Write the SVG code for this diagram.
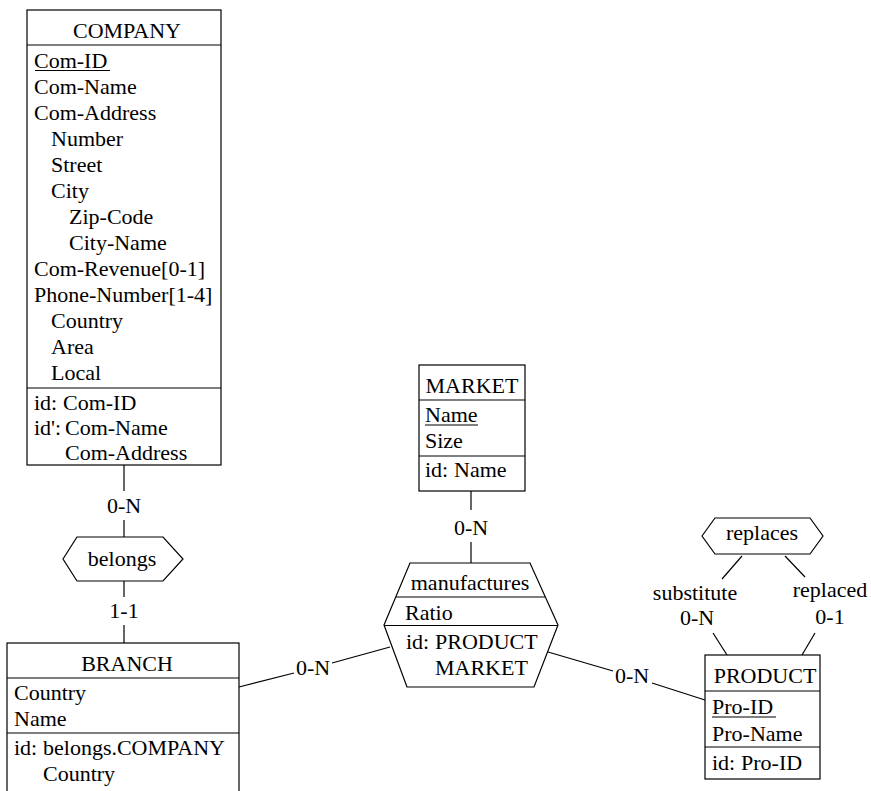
<svg xmlns="http://www.w3.org/2000/svg" width="871" height="791" viewBox="0 0 871 791" font-size="22">
  <style>
    text { fill: #000; font-family: 'Liberation Serif', serif; }
    .c { text-anchor: middle; }
    .box { fill: #fff; stroke: #000; stroke-width: 1.2; }
    .sep { stroke: #000; stroke-width: 1.2; fill: none; }
    #connectors line { stroke: #000; stroke-width: 1.2; fill: none; }
  </style>
  <rect width="871" height="791" fill="#fff"/>

  <!-- connectors with their cardinality labels -->
  <g id="connectors">
    <!-- COMPANY - belongs -->
    <line x1="124" y1="465" x2="124" y2="491"/>
    <line x1="124" y1="520" x2="124" y2="537"/>
    <text class="c" x="124" y="513">0-N</text>
    <!-- belongs - BRANCH -->
    <line x1="124" y1="581" x2="124" y2="597"/>
    <line x1="124" y1="625" x2="124" y2="643"/>
    <text class="c" x="124" y="618">1-1</text>
    <!-- BRANCH - manufactures -->
    <line x1="239" y1="687" x2="294" y2="673"/>
    <line x1="332" y1="663" x2="390" y2="647"/>
    <text class="c" x="313" y="675">0-N</text>
    <!-- MARKET - manufactures -->
    <line x1="471" y1="491" x2="471" y2="510"/>
    <line x1="471" y1="542" x2="471" y2="563"/>
    <text class="c" x="471" y="535">0-N</text>
    <!-- manufactures - PRODUCT -->
    <line x1="548" y1="652" x2="613" y2="671"/>
    <line x1="652" y1="683" x2="705" y2="700"/>
    <text class="c" x="632" y="683">0-N</text>
    <!-- replaces - PRODUCT (substitute role) -->
    <line x1="742" y1="556" x2="722" y2="579"/>
    <line x1="713" y1="633" x2="727" y2="655"/>
    <text class="c" x="695" y="600">substitute</text>
    <text class="c" x="697" y="625">0-N</text>
    <!-- replaces - PRODUCT (replaced role) -->
    <line x1="785" y1="556" x2="805" y2="577"/>
    <line x1="815" y1="633" x2="802" y2="655"/>
    <text class="c" x="830" y="597">replaced</text>
    <text class="c" x="830" y="624">0-1</text>
  </g>

  <!-- entity COMPANY -->
  <g id="company">
    <rect class="box" x="27" y="10" width="194" height="455"/>
    <line class="sep" x1="27" y1="45" x2="221" y2="45"/>
    <line class="sep" x1="27" y1="388" x2="221" y2="388"/>
    <text class="c" x="127" y="38">COMPANY</text>
    <text x="34" y="68">Com-ID</text>
    <line class="sep" x1="35" y1="70.5" x2="110" y2="70.5"/>
    <text x="34" y="94">Com-Name</text>
    <text x="34" y="120">Com-Address</text>
    <text x="51" y="146">Number</text>
    <text x="51" y="172">Street</text>
    <text x="51" y="198">City</text>
    <text x="69" y="224">Zip-Code</text>
    <text x="69" y="250">City-Name</text>
    <text x="34" y="276">Com-Revenue[0-1]</text>
    <text x="34" y="302">Phone-Number[1-4]</text>
    <text x="51" y="328">Country</text>
    <text x="51" y="354">Area</text>
    <text x="51" y="380">Local</text>
    <text x="34" y="410">id:</text>
    <text x="63" y="410">Com-ID</text>
    <text x="34" y="435">id':</text>
    <text x="65" y="435">Com-Name</text>
    <text x="65" y="460">Com-Address</text>
  </g>

  <!-- relationship belongs -->
  <g id="belongs">
    <polygon class="box" points="63,559 77,537 163,537 183,559 163,581 77,581"/>
    <text class="c" x="122" y="566">belongs</text>
  </g>

  <!-- entity BRANCH -->
  <g id="branch">
    <rect class="box" x="7" y="643" width="232" height="160"/>
    <line class="sep" x1="7" y1="678" x2="239" y2="678"/>
    <line class="sep" x1="7" y1="733" x2="239" y2="733"/>
    <text class="c" x="127" y="671">BRANCH</text>
    <text x="14" y="700">Country</text>
    <text x="14" y="726">Name</text>
    <text x="14" y="755">id:</text>
    <text x="43" y="755">belongs.COMPANY</text>
    <text x="43" y="781">Country</text>
  </g>

  <!-- entity MARKET -->
  <g id="market">
    <rect class="box" x="419" y="365" width="106" height="126"/>
    <line class="sep" x1="419" y1="400" x2="525" y2="400"/>
    <line class="sep" x1="419" y1="456" x2="525" y2="456"/>
    <text class="c" x="472" y="393">MARKET</text>
    <text x="425" y="422">Name</text>
    <line class="sep" x1="425" y1="425" x2="478" y2="425"/>
    <text x="425" y="448">Size</text>
    <text x="425" y="477">id:</text>
    <text x="454" y="477">Name</text>
  </g>

  <!-- relationship manufactures -->
  <g id="manufactures">
    <polygon class="box" points="410,563 530,563 558,625 534,687 407,687 384,625"/>
    <line class="sep" x1="396" y1="597" x2="545" y2="597"/>
    <line class="sep" x1="384" y1="625.5" x2="558" y2="625.5"/>
    <text class="c" x="470" y="590">manufactures</text>
    <text x="405" y="620">Ratio</text>
    <text x="406" y="649">id:</text>
    <text x="435" y="649">PRODUCT</text>
    <text x="435" y="675">MARKET</text>
  </g>

  <!-- relationship replaces -->
  <g id="replaces">
    <polygon class="box" points="702,536 715,518 810,518 823,536 810,554 715,554"/>
    <text class="c" x="762" y="540">replaces</text>
  </g>

  <!-- entity PRODUCT -->
  <g id="product">
    <rect class="box" x="705" y="655" width="115" height="124"/>
    <line class="sep" x1="705" y1="691" x2="820" y2="691"/>
    <line class="sep" x1="705" y1="747" x2="820" y2="747"/>
    <text class="c" x="765" y="683">PRODUCT</text>
    <text x="712" y="714">Pro-ID</text>
    <line class="sep" x1="712" y1="717" x2="776" y2="717"/>
    <text x="712" y="741">Pro-Name</text>
    <text x="712" y="770">id:</text>
    <text x="741" y="770">Pro-ID</text>
  </g>
</svg>
